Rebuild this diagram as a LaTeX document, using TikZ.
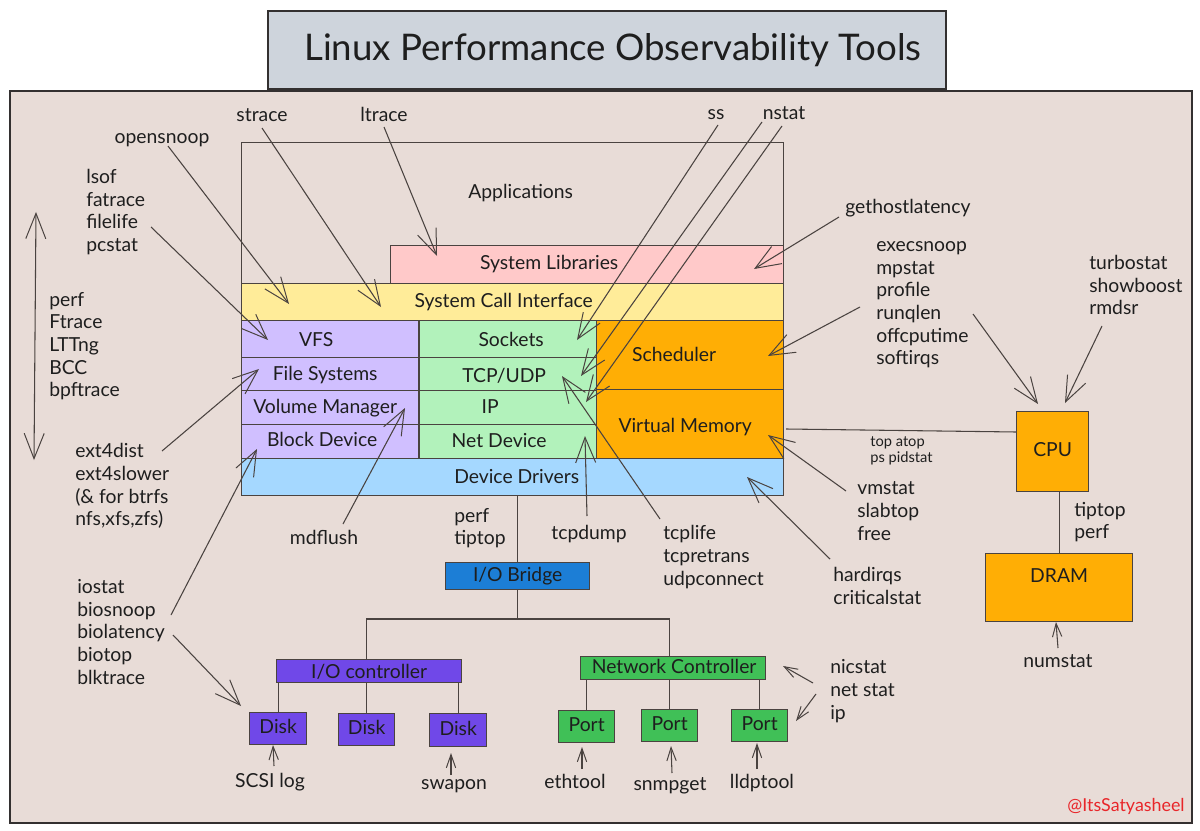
\documentclass[tikz,border=0pt]{standalone}
\usepackage{fontspec}
\setmainfont{Lato}
\usetikzlibrary{arrows.meta}
\definecolor{ink}{HTML}{1E1E1E}
\definecolor{wire}{HTML}{4A4340}
\definecolor{frame}{HTML}{333030}
\definecolor{panel}{HTML}{E8DCD7}
\definecolor{titlefill}{HTML}{CED4DC}
\definecolor{libfill}{HTML}{FFC9C9}
\definecolor{sysfill}{HTML}{FFEC99}
\definecolor{fsfill}{HTML}{D0BFFF}
\definecolor{netfill}{HTML}{B2F2BB}
\definecolor{cpufill}{HTML}{FFAE05}
\definecolor{drvfill}{HTML}{A5D8FF}
\definecolor{bridgefill}{HTML}{1C7ED6}
\definecolor{diskfill}{HTML}{7048E8}
\definecolor{portfill}{HTML}{40C057}
\definecolor{signred}{HTML}{E8262A}
\tikzset{
  every node/.style={text=ink,font=\fontsize{14.5}{17}\selectfont},
  layer/.style={draw=wire,line width=1pt,inner sep=0pt},
  tool/.style={align=left,inner sep=0pt,anchor=west},
  toolc/.style={align=center,inner sep=0pt},
  wirel/.style={draw=wire,line width=0.8pt},
  bigtip/.style={wirel,-{Straight Barb[length=19pt,width=15pt,line width=0.75pt]}},
  bothtip/.style={wirel,{Straight Barb[length=19pt,width=15pt,line width=0.75pt]}-{Straight Barb[length=19pt,width=15pt,line width=0.75pt]}},
  smalltip/.style={wirel,-{Straight Barb[length=10pt,width=7pt,line width=0.75pt]}}
}
% name, x1, y1, x2, y2, style, text dx, text dy (up), text (px)
\newcommand{\boxn}[9]{%
  \pgfmathsetmacro\bw{(#4-#2)*0.75}\pgfmathsetmacro\bh{(#5-#3)*0.75}%
  \pgfmathsetmacro\tdx{(#7)*1.5}\pgfmathsetmacro\tdy{(#8)*0.75}%
  \node[layer,#6,minimum width=\bw pt,minimum height=\bh pt,anchor=north west] (#1) at (#2,#3)
    {\makebox[0pt]{\hspace*{\tdx pt}\raisebox{\dimexpr\tdy pt-0.26em\relax}[0pt][0pt]{#9}}};}
% style, name, start, tip
\newcommand{\arrowc}[4]{%
  \coordinate (#2s) at (#3); \coordinate (#2t) at (#4);
  \draw[#1] (#2s) -- (#2t);}
\begin{document}
\begin{tikzpicture}[x=0.75pt,y=-0.75pt]
\useasboundingbox (0,0) rectangle (1200,831);
\fill[white] (0,0) rectangle (1200,831);
\node[draw=frame,line width=1.6pt,fill=panel,minimum width=886.5pt,minimum height=549pt,anchor=north west,inner sep=0pt] (panelbox) at (9,90) {};
\boxn{titlebox}{267}{10}{945}{88}{fill=titlefill,draw=frame,line width=1.4pt,font=\fontsize{27.5}{33}\selectfont}{6}{-1}{Linux Performance Observability Tools}

\boxn{apps}{241}{142}{783}{283}{}{8}{20}{Applications}
\boxn{syslib}{390}{245}{783}{283}{fill=libfill}{-38}{0}{System Libraries}
\boxn{syscall}{241}{283}{783}{320}{fill=sysfill}{-9}{0}{System Call Interface}
\boxn{vfs}{241}{320}{418}{357}{fill=fsfill}{-14}{-2}{VFS}
\boxn{fs}{241}{357}{418}{390}{fill=fsfill}{-5}{-1}{File Systems}
\boxn{vol}{241}{390}{418}{424}{fill=fsfill}{-5}{-1}{Volume Manager}
\boxn{block}{241}{424}{418}{458}{fill=fsfill}{-8}{0}{Block Device}
\boxn{sockets}{419}{320}{596}{357}{fill=netfill}{3}{-2}{Sockets}
\boxn{tcp}{419}{357}{596}{390}{fill=netfill}{-4}{-3}{TCP/UDP}
\boxn{ipl}{419}{390}{596}{424}{fill=netfill}{-18}{-1}{IP}
\boxn{netdev}{419}{424}{596}{458}{fill=netfill}{-9}{-1}{Net Device}
\boxn{sched}{596}{320}{783}{389}{fill=cpufill}{-16}{-1}{Scheduler}
\boxn{vm}{596}{389}{783}{458}{fill=cpufill}{-5}{-3}{Virtual Memory}
\boxn{drivers}{241}{458}{783}{495}{fill=drvfill}{4}{-1}{Device Drivers}

\boxn{bridge}{445}{562}{589}{589}{fill=bridgefill}{0}{0}{I/O Bridge}
\boxn{ioctrl}{276}{659}{461}{682}{fill=diskfill}{0}{-2}{I/O controller}
\boxn{diska}{249}{712}{306}{744}{fill=diskfill}{0}{0}{Disk}
\boxn{diskb}{338}{713}{394}{745}{fill=diskfill}{0}{0}{Disk}
\boxn{diskc}{429}{713}{486}{746}{fill=diskfill}{0}{0}{Disk}
\boxn{netctrl}{580}{656}{765}{679}{fill=portfill}{1}{0}{Network Controller}
\boxn{porta}{558}{710}{614}{742}{fill=portfill}{0}{0}{Port}
\boxn{portb}{641}{709}{697}{741}{fill=portfill}{0}{0}{Port}
\boxn{portc}{731}{709}{787}{741}{fill=portfill}{0}{0}{Port}
\boxn{cpu}{1016}{411}{1088}{491}{fill=cpufill}{0}{0}{CPU}
\boxn{dram}{985}{553}{1132}{621}{fill=cpufill}{0}{10}{DRAM}

% structural connectors
\coordinate (fork) at (bridge.south |- 0,619);
\coordinate (vmout) at (786,429);
\draw[wirel] (bridge.north) -- (bridge.north |- drivers.south);
\draw[wirel] (bridge.south) -- (fork);
\draw[wirel] (diskb.north |- ioctrl.north) |- (fork);
\draw[wirel] (portb.north |- netctrl.north) |- (fork);
\draw[wirel] (diska.north) -- (diska.north |- ioctrl.south);
\draw[wirel] (diskb.north) -- (diskb.north |- ioctrl.south);
\draw[wirel] (diskc.north) -- (diskc.north |- ioctrl.south);
\draw[wirel] (porta.north) -- (porta.north |- netctrl.south);
\draw[wirel] (portb.north) -- (portb.north |- netctrl.south);
\draw[wirel] (portc.north) -- (portc.north |- netctrl.south);
\draw[wirel] (vmout) -- ([yshift=-15.75pt]cpu.north west);
\draw[wirel] (cpu.south -| dram.north) -- (dram.north);

% labels
\node[toolc] (lstrace) at (262,115) {strace};
\node[toolc] (lltrace) at (384,114) {ltrace};
\node[toolc] (lopen) at (162,140) {opensnoop};
\node[tool] (llsof) at (86,212) {lsof\\fatrace\\filelife\\pcstat};
\node[tool] (lperf) at (49,346) {perf\\Ftrace\\LTTng\\BCC\\bpftrace};
\node[tool] (lext) at (75,486) {ext4dist\\ext4slower\\(\& for btrfs\\nfs,xfs,zfs)};
\node[toolc] (lmd) at (324,537) {mdflush};
\node[tool] (lio) at (77,632) {iostat\\biosnoop\\biolatency\\biotop\\blktrace};
\node[tool] (lptip) at (454,528) {perf\\tiptop};
\node[toolc] (ldump) at (589,534) {tcpdump};
\node[tool] (ltcp) at (663,557) {tcplife\\tcpretrans\\udpconnect};
\node[tool] (lhard) at (833,586) {hardirqs\\criticalstat};
\node[tool] (lvm) at (857,511) {vmstat\\slabtop\\free};
\node[tool,font=\fontsize{11}{12.5}\selectfont] (ltop) at (870,451) {top atop\\ps pidstat};
\node[tool] (lexec) at (876,305) {execsnoop\\mpstat\\profile\\runqlen\\offcputime\\softirqs};
\node[tool] (lhost) at (845,208) {gethostlatency};
\node[tool] (lturbo) at (1089,285) {turbostat\\showboost\\rmdsr};
\node[tool] (ltip) at (1074,522) {tiptop\\perf};
\node[toolc] (lnum) at (1058,661) {numstat};
\node[tool] (lnic) at (830,691) {nicstat\\net stat\\ip};
\node[toolc] (lscsi) at (270,782) {SCSI log};
\node[toolc] (lswap) at (454,786) {swapon};
\node[toolc] (leth) at (575,781) {ethtool};
\node[toolc] (lsnmp) at (670,786) {snmpget};
\node[toolc] (llldp) at (762,783) {lldptool};
\node[toolc] (lss) at (716,115) {ss};
\node[toolc] (lnstat) at (784,113) {nstat};
\node[toolc,text=signred,font=\fontsize{13.4}{15}\selectfont] (lsign) at (1126,806) {@ItsSatyasheel};

% arrows
\arrowc{bigtip}{aopen}{168,146}{289,304}
\arrowc{bigtip}{astrace}{262,128}{381,307}
\arrowc{bigtip}{altrace}{384,127}{437,256}
\arrowc{bigtip}{alsof}{151,227}{268,340}
\arrowc{bigtip}{aext}{162,451}{259,369}
\arrowc{bigtip}{aio}{171,615}{257,449}
\arrowc{bigtip}{abio}{173,635}{241,706}
\arrowc{bigtip}{amd}{343,524}{405,408}
\arrowc{bothtip}{aboth}{36,212}{34,460}
\arrowc{bigtip}{ass}{718,125}{577,340}
\arrowc{bigtip}{anstata}{762,122}{581,376}
\arrowc{bigtip}{anstatb}{782,126}{586,402}
\arrowc{bigtip}{ahost}{839,217}{754,269}
\arrowc{bigtip}{aexecs}{860,307}{768,356}
\arrowc{bigtip}{aexecc}{973,314}{1038,404}
\arrowc{bigtip}{aturbo}{1102,326}{1065,403}
\arrowc{bigtip}{avm}{846,491}{768,435}
\arrowc{bigtip}{ahard}{830,559}{747,477}
\arrowc{bigtip}{atcp}{660,519}{562,376}
\arrowc{bigtip}{adump}{587,516}{585,436}
\arrowc{smalltip}{anum}{1058,648}{1056,622}
\arrowc{smalltip}{ascsi}{274,766}{273,745}
\arrowc{smalltip}{aswap}{451,775}{451,753}
\arrowc{smalltip}{aeth}{582,769}{582,747}
\arrowc{smalltip}{asnmp}{672,773}{671,746}
\arrowc{smalltip}{alldp}{757,769}{757,743}
\arrowc{smalltip}{anic}{813,683}{783,666}
\arrowc{smalltip}{anet}{816,694}{796,721}
\end{tikzpicture}
\end{document}
